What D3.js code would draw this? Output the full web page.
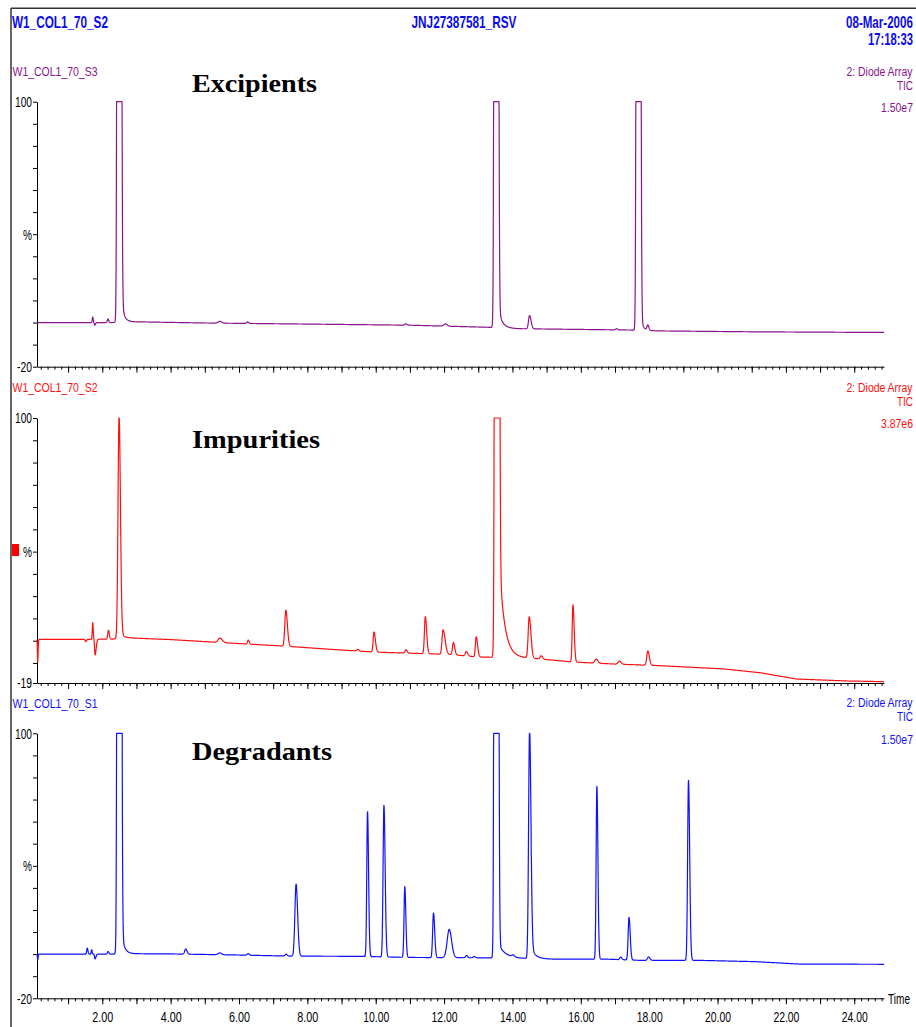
<!DOCTYPE html>
<html>
<head>
<meta charset="utf-8">
<style>
  body { margin: 0; background: #fff; }
  svg { display: block; }
  .lbl { font-family: "Liberation Sans Narrow", "Liberation Sans", Arial, sans-serif; }
  .ttl { font-family: "Liberation Serif", "DejaVu Serif", serif; font-weight: bold; fill: #000; }
  .axis path, .axis line { stroke: #000; stroke-width: 1px; }
  .axis text { font-family: "Liberation Sans Narrow", "Liberation Sans", Arial, sans-serif; fill: #000; }
</style>
</head>
<body>
<script src="https://d3js.org/d3.v7.min.js"></script>
<script>
// ---- data ----
var timeDomain = [0.09, 24.87];
var timeLabels = [2, 4, 6, 8, 10, 12, 14, 16, 18, 20, 22, 24];

// baselines: [time, %]
var excipientBaseline = [[0.09,0],[2.3,0],[2.7,0.4],[5,-0.2],[8,-0.7],[11,-1.2],[13.4,-2.2],[14.2,-2.8],[17.5,-3.4],[18.3,-3.8],[21,-4.2],[24.87,-4.5]];
var impurityBaseline = [[0.09,0.6],[1.4,0.6],[2.3,0.7],[2.7,1.3],[4,0.5],[5.2,-0.6],[7.3,-2.4],[8.7,-3.9],[9.95,-5.1],[12.2,-6.2],[12.96,-7.3],[14.5,-7.8],[15.8,-9.6],[17,-10.5],[18.3,-11.2],[20.2,-12.7],[21.25,-14.4],[22.3,-17.2],[23.8,-18.1],[24.87,-18.4]];
var degradantBaseline = [[0.09,0],[2.3,0],[2.7,0.2],[4,0.1],[6,-0.4],[7.5,-0.9],[9.5,-1.0],[11,-1.5],[13.4,-1.7],[15.3,-2.3],[16.8,-2.3],[17.7,-2.8],[19.4,-2.8],[21.1,-3.4],[22.4,-4.5],[24.87,-4.6]];

// peaks: [retention time, height %, sigma left, sigma right, tail decay (optional)]
var excipientPeaks = [[1.72,2.5,0.012,0.015],[1.78,-1.2,0.015,0.02],[2.17,1.6,0.02,0.02],[2.49,3000,0.028,0.034],[2.55,12,0.03,0,0.07],
  [5.44,0.8,0.05,0.05],[6.25,0.7,0.03,0.03],[10.88,0.6,0.03,0.03],[12.04,1.0,0.05,0.05],[13.52,3000,0.028,0.034],[13.58,10,0.03,0,0.1],
  [14.5,6,0.03,0.045],[17.05,0.5,0.03,0.03],[17.68,3000,0.028,0.034],[17.74,6,0.03,0,0.07],[17.96,2.3,0.025,0.03]];
var impurityPeaks = [[0.11,-10,0.008,0.012],[1.52,-1.0,0.02,0.02],[1.72,7.5,0.012,0.015],[1.79,-7,0.015,0.03],[2.18,4.0,0.02,0.025],
  [2.49,98.3,0.03,0.04],[2.52,3,0.03,0,0.08],[5.44,2.0,0.05,0.07],[6.27,1.8,0.02,0.03],[7.37,16.2,0.03,0.045],[9.48,0.8,0.03,0.03],[9.95,9,0.025,0.04],
  [10.89,1.5,0.03,0.03],[11.45,16.6,0.025,0.04],[11.97,11,0.03,0.06],[12.27,5.5,0.025,0.04],[12.65,2,0.03,0.04],[12.94,9,0.025,0.04],
  [13.54,3000,0.03,0.036],[13.62,42,0.03,0,0.15],[14.49,18.4,0.03,0.05],[14.84,1.5,0.03,0.04],[15.77,25.6,0.022,0.035],
  [16.45,1.8,0.04,0.05],[17.13,1.4,0.04,0.05],[17.96,6.4,0.03,0.045]];
var degradantPeaks = [[0.11,-2.7,0.008,0.012],[1.56,2.8,0.015,0.02],[1.69,2,0.012,0.015],[1.79,-2.2,0.015,0.025],[2.17,1.2,0.02,0.025],
  [2.49,3000,0.028,0.035],[2.56,10,0.03,0,0.08],[4.44,2.3,0.03,0.04],[5.44,0.8,0.05,0.05],[6.27,0.7,0.03,0.03],[7.38,0.8,0.03,0.03],
  [7.67,32.6,0.035,0.045],[9.76,65.7,0.022,0.03],[10.24,68.7,0.025,0.035],[10.85,32,0.022,0.03],[11.69,20.2,0.025,0.035],
  [12.15,12.8,0.06,0.07],[12.66,1.0,0.03,0.03],[12.88,0.6,0.03,0.03],[13.52,3000,0.028,0.035],[13.6,6,0.03,0,0.2],
  [14.02,0.8,0.04,0.04],[14.5,102,0.028,0.04],[14.55,5,0.03,0,0.12],[16.47,78.3,0.022,0.03],[17.17,1.2,0.03,0.03],
  [17.41,19.3,0.025,0.035],[17.98,1.5,0.03,0.04],[19.15,81.5,0.025,0.035]];

var panelNames = ["W1_COL1_70_S3", "W1_COL1_70_S2", "W1_COL1_70_S1"];
var panelTitles = ["Excipients", "Impurities", "Degradants"];
var panelScales = ["1.50e7", "3.87e6", "1.50e7"];
var panelMins = [-20, -19, -20];

// ---- layout ----
var width = 916, height = 1027;
var plotLeft = 37, plotRight = 884, panelH = 265;
var panelTops = [101.7, 418, 733.3];
var colors = ["#8a148c", "#ff1010", "#1010ff"];
var titleLens = [125, 128, 140];
var titleBase = [92, 448, 760];
var baselines = [excipientBaseline, impurityBaseline, degradantBaseline];
var peaks = [excipientPeaks, impurityPeaks, degradantPeaks];

var svg = d3.select("body").append("svg")
    .attr("width", width)
    .attr("height", height);

// frame
svg.append("line").attr("x1", 11).attr("x2", width).attr("y1", 8.3).attr("y2", 8.3)
    .attr("stroke", "#333").attr("stroke-width", 1.5);
svg.append("line").attr("x1", 11).attr("x2", 11).attr("y1", 8.3).attr("y2", height)
    .attr("stroke", "#333").attr("stroke-width", 1.5);

// condensed label: squeezed horizontally to the measured width
function label(sel, txt, x, y, size, len, anchor, color, weight) {
  var t = sel.append("text").attr("class", "lbl")
      .attr("font-size", size)
      .attr("fill", color || "#000")
      .attr("font-weight", weight || "normal")
      .text(txt);
  var w = t.node().getComputedTextLength();
  var left = anchor === "end" ? x - len : x;
  t.attr("transform", "translate(" + left + "," + y + ") scale(" + (len / w) + ",1)");
  return t;
}
label(svg, "W1_COL1_70_S2", 12, 28, 17, 96, "start", "#0a0af0", "bold");
label(svg, "JNJ27387581_RSV", 411.5, 28, 17, 105, "start", "#0a0af0", "bold");
label(svg, "08-Mar-2006", 913, 28, 17, 67, "end", "#0a0af0", "bold");
label(svg, "17:18:33", 913, 45, 17, 45, "end", "#0a0af0", "bold");

var x = d3.scaleLinear().domain(timeDomain).range([plotLeft, plotRight]);

var minorTicks = d3.range(1, 125).map(function(k) { return +(k * 0.2).toFixed(1); });
var majorTicks = d3.range(1, 25);

function buildTrace(base, pk, ymin) {
  var bs = d3.scaleLinear().domain(base.map(function(d){ return d[0]; })).range(base.map(function(d){ return d[1]; }));
  var ts = d3.range(timeDomain[0], timeDomain[1], 0.004);
  ts.push(timeDomain[1]);
  return ts.map(function(t) {
    var v = bs(t);
    pk.forEach(function(p) {
      var dt = t - p[0];
      if (p[4] && dt > 0) {
        if (dt < 12 * p[4]) v += p[1] * Math.exp(-dt / p[4]);
      } else {
        var s = dt < 0 ? p[2] : p[3];
        if (Math.abs(dt) < 8 * s) v += p[1] * Math.exp(-dt * dt / (2 * s * s));
      }
    });
    return [t, Math.max(ymin, Math.min(100, v))];
  });
}

panelTops.forEach(function(top, i) {
  var ymin = panelMins[i];
  var y = d3.scaleLinear().domain([ymin, 100]).range([top + panelH, top]);
  var g = svg.append("g");

  // panel labels
  label(g, panelNames[i], 12.5, top - 25.7, 13.5, 85, "start", colors[i]);
  label(g, "2: Diode Array", 912.5, top - 26.2, 13.5, 66, "end", colors[i]);
  label(g, "TIC", 913, top - 12.2, 13.5, 16, "end", colors[i]);
  label(g, panelScales[i], 913, top + 10.3, 13.5, 32, "end", colors[i]);

  // y axis
  var yTicks = [ymin].concat(d3.range(-10, 101, 10));
  var ya = g.append("g").attr("class", "axis")
      .attr("transform", "translate(" + plotLeft + ",0)")
      .call(d3.axisLeft(y).tickValues(yTicks).tickSize(4).tickSizeOuter(0).tickPadding(1)
        .tickFormat(function(d) { return d === 100 || d === ymin ? String(d) : (d === 40 ? "%" : ""); }));
  ya.selectAll("text").attr("font-size", 15)
    .each(function(d) {
      if (d === 100) d3.select(this).attr("textLength", 17).attr("lengthAdjust", "spacingAndGlyphs");
      else if (d === ymin) d3.select(this).attr("textLength", 15).attr("lengthAdjust", "spacingAndGlyphs");
      else if (d === 40) d3.select(this).attr("textLength", 9).attr("lengthAdjust", "spacingAndGlyphs");
    });

  // x axis: minor and major ticks
  var axY = top + panelH;
  g.append("g").attr("class", "axis")
      .attr("transform", "translate(0," + axY + ")")
      .call(d3.axisBottom(x).tickValues(minorTicks).tickSize(3).tickSizeOuter(0).tickFormat(""))
      .select(".domain").remove();
  var xa = g.append("g").attr("class", "axis")
      .attr("transform", "translate(0," + axY + ")")
      .call(d3.axisBottom(x).tickValues(majorTicks).tickSize(6).tickSizeOuter(0).tickPadding(7)
        .tickFormat(function(d) { return (i === 2 && timeLabels.indexOf(d) >= 0) ? d3.format(".2f")(d) : ""; }));
  xa.selectAll("text").attr("font-size", 15)
    .each(function(d) {
      var s = d3.select(this).text();
      if (s) d3.select(this).attr("textLength", s.length > 4 ? 26 : 21).attr("lengthAdjust", "spacingAndGlyphs");
    });

  // trace
  var line = d3.line().x(function(d){ return x(d[0]); }).y(function(d){ return y(d[1]); });
  g.append("path")
      .datum(buildTrace(baselines[i], peaks[i], ymin))
      .attr("fill", "none")
      .attr("stroke", colors[i])
      .attr("stroke-width", 1.2)
      .attr("stroke-linejoin", "round")
      .attr("d", line);

  // title
  g.append("text").attr("class", "ttl")
      .attr("x", 192).attr("y", titleBase[i])
      .attr("font-size", 26)
      .attr("textLength", titleLens[i]).attr("lengthAdjust", "spacingAndGlyphs")
      .text(panelTitles[i]);
});

// red marker next to the middle panel's % label
svg.append("rect").attr("x", 12).attr("y", 544).attr("width", 7).attr("height", 12).attr("fill", "#ff0000");

label(svg, "Time", 888, 1004, 15, 22, "start", "#000");
</script>
</body>
</html>
